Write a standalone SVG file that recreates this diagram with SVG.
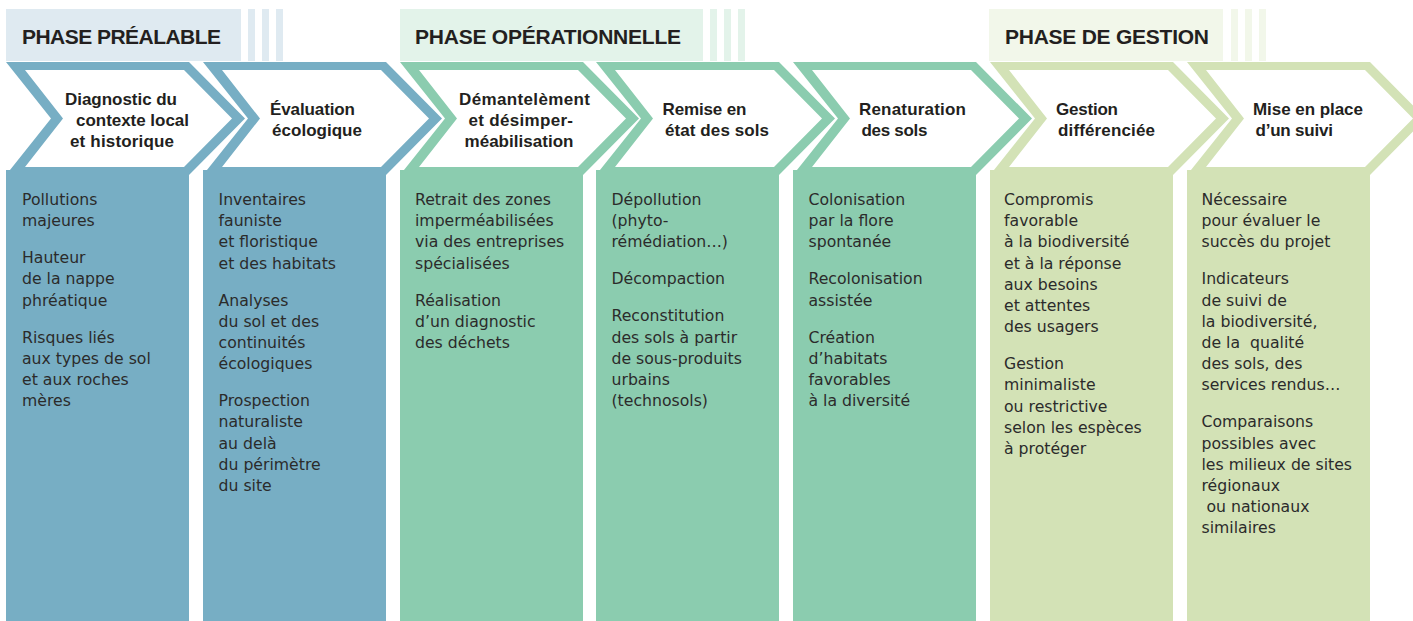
<svg xmlns="http://www.w3.org/2000/svg" xmlns:xlink="http://www.w3.org/1999/xlink" width="1413" height="621" viewBox="0 0 1413 621">
<style>
.bg{fill:#ffffff}
.c-blue{fill:#77aec4}
.c-green{fill:#8bccaf}
.c-lgreen{fill:#d3e2b6}
.h-blue{fill:#dfeaf1}
.h-green{fill:#e3f3ea}
.h-lgreen{fill:#f2f7ea}
.inner{fill:#ffffff}
.htitle{font-family:"Liberation Sans",Arial,sans-serif;font-weight:bold;font-size:21px;fill:#231f20}
.title{font-family:"Liberation Sans",Arial,sans-serif;font-weight:bold;font-size:17px;fill:#231f20}
.body{font-family:"DejaVu Sans","Liberation Sans",sans-serif;font-size:15.7px;fill:#2b2b2b;white-space:pre}
</style>
<defs>
<path id="chev-outer" d="M0,62 H183 L239,118.5 L183,175 H0 L45,118.5 Z"/>
<path id="chev-inner" d="M19,70 H178 L226,118.5 L178,167 H19 L57,118.5 Z"/>
<rect id="col" x="0" y="170" width="183" height="451"/>
<g id="stripes"><rect x="0" y="9" width="7" height="52"/><rect x="14" y="9" width="7" height="52"/><rect x="28" y="9" width="7" height="52"/></g>
</defs>
<rect class="bg" x="0" y="0" width="1413" height="621"/>

<g id="header-prealable">
<rect class="h-blue" x="6" y="9" width="235" height="52"/>
<use xlink:href="#stripes" href="#stripes" x="248" class="h-blue"/>
<text class="htitle" x="22" y="44" textLength="199">PHASE PRÉALABLE</text>
</g>
<g id="header-operationnelle">
<rect class="h-green" x="400" y="9" width="303" height="52"/>
<use xlink:href="#stripes" href="#stripes" x="710" class="h-green"/>
<text class="htitle" x="415" y="44" textLength="266">PHASE OPÉRATIONNELLE</text>
</g>
<g id="header-gestion">
<rect class="h-lgreen" x="989" y="9" width="234" height="52"/>
<use xlink:href="#stripes" href="#stripes" x="1231" class="h-lgreen"/>
<text class="htitle" x="1005" y="44" textLength="204">PHASE DE GESTION</text>
</g>

<g id="connectors"></g>

<g id="step1">
<use xlink:href="#col" href="#col" x="6" class="c-blue"/>
<use xlink:href="#chev-outer" href="#chev-outer" x="6" class="c-blue"/>
<use xlink:href="#chev-inner" href="#chev-inner" x="6" class="inner"/>
<text class="title" x="65" y="105" textLength="112">Diagnostic du</text>
<text class="title" x="76" y="126" textLength="113">contexte local</text>
<text class="title" x="70" y="147" textLength="104">et historique</text>
<text class="body" x="22" y="205">Pollutions</text>
<text class="body" x="22" y="226.2">majeures</text>
<text class="body" x="22" y="263.2">Hauteur</text>
<text class="body" x="22" y="284.4">de la nappe</text>
<text class="body" x="22" y="305.6">phréatique</text>
<text class="body" x="22" y="342.6">Risques liés</text>
<text class="body" x="22" y="363.8">aux types de sol</text>
<text class="body" x="22" y="385">et aux roches</text>
<text class="body" x="22" y="406.2">mères</text>
</g>

<g id="step2">
<use xlink:href="#col" href="#col" x="203" class="c-blue"/>
<use xlink:href="#chev-outer" href="#chev-outer" x="203" class="c-blue"/>
<use xlink:href="#chev-inner" href="#chev-inner" x="203" class="inner"/>
<text class="title" x="270" y="115" textLength="85">Évaluation</text>
<text class="title" x="272" y="136" textLength="90">écologique</text>
<text class="body" x="218.5" y="205">Inventaires</text>
<text class="body" x="218.5" y="226.2">fauniste</text>
<text class="body" x="218.5" y="247.4">et floristique</text>
<text class="body" x="218.5" y="268.6">et des habitats</text>
<text class="body" x="218.5" y="305.6">Analyses</text>
<text class="body" x="218.5" y="326.8">du sol et des</text>
<text class="body" x="218.5" y="348">continuités</text>
<text class="body" x="218.5" y="369.2">écologiques</text>
<text class="body" x="218.5" y="406.2">Prospection</text>
<text class="body" x="218.5" y="427.4">naturaliste</text>
<text class="body" x="218.5" y="448.6">au delà</text>
<text class="body" x="218.5" y="469.8">du périmètre</text>
<text class="body" x="218.5" y="491">du site</text>
</g>

<g id="step3">
<use xlink:href="#col" href="#col" x="400" class="c-green"/>
<use xlink:href="#chev-outer" href="#chev-outer" x="400" class="c-green"/>
<use xlink:href="#chev-inner" href="#chev-inner" x="400" class="inner"/>
<text class="title" x="459" y="105" textLength="131">Démantelèment</text>
<text class="title" x="468.5" y="126" textLength="104.5">et désimper-</text>
<text class="title" x="464.5" y="147" textLength="109">méabilisation</text>
<text class="body" x="415" y="205">Retrait des zones</text>
<text class="body" x="415" y="226.2">imperméabilisées</text>
<text class="body" x="415" y="247.4">via des entreprises</text>
<text class="body" x="415" y="268.6">spécialisées</text>
<text class="body" x="415" y="305.6">Réalisation</text>
<text class="body" x="415" y="326.8">d’un diagnostic</text>
<text class="body" x="415" y="348">des déchets</text>
</g>

<g id="step4">
<use xlink:href="#col" href="#col" x="596" class="c-green"/>
<use xlink:href="#chev-outer" href="#chev-outer" x="596" class="c-green"/>
<use xlink:href="#chev-inner" href="#chev-inner" x="596" class="inner"/>
<text class="title" x="662.5" y="115" textLength="84">Remise en</text>
<text class="title" x="665" y="136" textLength="104">état des sols</text>
<text class="body" x="611.5" y="205">Dépollution</text>
<text class="body" x="611.5" y="226.2">(phyto-</text>
<text class="body" x="611.5" y="247.4">rémédiation…)</text>
<text class="body" x="611.5" y="284.4">Décompaction</text>
<text class="body" x="611.5" y="321.4">Reconstitution</text>
<text class="body" x="611.5" y="342.6">des sols à partir</text>
<text class="body" x="611.5" y="363.8">de sous-produits</text>
<text class="body" x="611.5" y="385">urbains</text>
<text class="body" x="611.5" y="406.2">(technosols)</text>
</g>

<g id="step5">
<use xlink:href="#col" href="#col" x="793" class="c-green"/>
<use xlink:href="#chev-outer" href="#chev-outer" x="793" class="c-green"/>
<use xlink:href="#chev-inner" href="#chev-inner" x="793" class="inner"/>
<text class="title" x="859" y="115" textLength="107">Renaturation</text>
<text class="title" x="861.5" y="136" textLength="66">des sols</text>
<text class="body" x="808.5" y="205">Colonisation</text>
<text class="body" x="808.5" y="226.2">par la flore</text>
<text class="body" x="808.5" y="247.4">spontanée</text>
<text class="body" x="808.5" y="284.4">Recolonisation</text>
<text class="body" x="808.5" y="305.6">assistée</text>
<text class="body" x="808.5" y="342.6">Création</text>
<text class="body" x="808.5" y="363.8">d’habitats</text>
<text class="body" x="808.5" y="385">favorables</text>
<text class="body" x="808.5" y="406.2">à la diversité</text>
</g>

<g id="step6">
<use xlink:href="#col" href="#col" x="990" class="c-lgreen"/>
<use xlink:href="#chev-outer" href="#chev-outer" x="990" class="c-lgreen"/>
<use xlink:href="#chev-inner" href="#chev-inner" x="990" class="inner"/>
<text class="title" x="1056" y="115" textLength="62">Gestion</text>
<text class="title" x="1058" y="136" textLength="97">différenciée</text>
<text class="body" x="1004" y="205">Compromis</text>
<text class="body" x="1004" y="226.2">favorable</text>
<text class="body" x="1004" y="247.4">à la biodiversité</text>
<text class="body" x="1004" y="268.6">et à la réponse</text>
<text class="body" x="1004" y="289.8">aux besoins</text>
<text class="body" x="1004" y="311">et attentes</text>
<text class="body" x="1004" y="332.2">des usagers</text>
<text class="body" x="1004" y="369.2">Gestion</text>
<text class="body" x="1004" y="390.4">minimaliste</text>
<text class="body" x="1004" y="411.6">ou restrictive</text>
<text class="body" x="1004" y="432.8">selon les espèces</text>
<text class="body" x="1004" y="454">à protéger</text>
</g>

<g id="step7">
<use xlink:href="#col" href="#col" x="1187" class="c-lgreen"/>
<use xlink:href="#chev-outer" href="#chev-outer" x="1187" class="c-lgreen"/>
<use xlink:href="#chev-inner" href="#chev-inner" x="1187" class="inner"/>
<text class="title" x="1253" y="115" textLength="110">Mise en place</text>
<text class="title" x="1255.5" y="136" textLength="77.5">d’un suivi</text>
<text class="body" x="1201.5" y="205">Nécessaire</text>
<text class="body" x="1201.5" y="226.2">pour évaluer le</text>
<text class="body" x="1201.5" y="247.4">succès du projet</text>
<text class="body" x="1201.5" y="284.4">Indicateurs</text>
<text class="body" x="1201.5" y="305.6">de suivi de</text>
<text class="body" x="1201.5" y="326.8">la biodiversité,</text>
<text class="body" x="1201.5" y="348" xml:space="preserve">de la  qualité</text>
<text class="body" x="1201.5" y="369.2">des sols, des</text>
<text class="body" x="1201.5" y="390.4">services rendus…</text>
<text class="body" x="1201.5" y="427.4">Comparaisons</text>
<text class="body" x="1201.5" y="448.6">possibles avec</text>
<text class="body" x="1201.5" y="469.8">les milieux de sites</text>
<text class="body" x="1201.5" y="491">régionaux</text>
<text class="body" x="1201.5" y="512.2" xml:space="preserve"> ou nationaux</text>
<text class="body" x="1201.5" y="533.4">similaires</text>
</g>
</svg>
